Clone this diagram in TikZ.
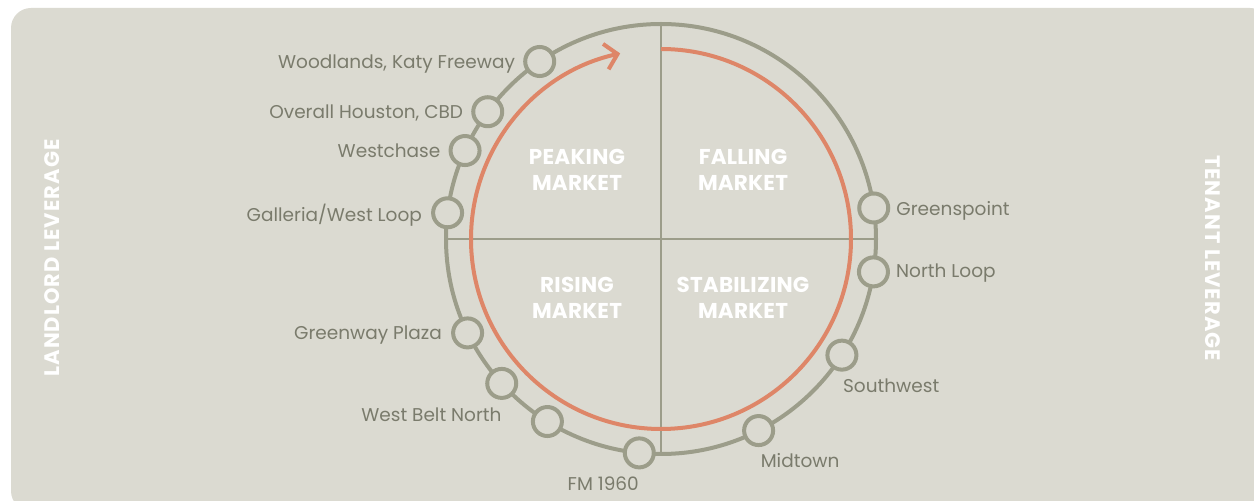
\documentclass[tikz,border=0pt]{standalone}
\usepackage{fontspec}
\setmainfont{Poppins}
\newfontfamily\capfont{Poppins}[LetterSpace=1]
\newfontfamily\sidefont{Poppins}[LetterSpace=5]
\usetikzlibrary{arrows.meta}
\definecolor{bgc}{RGB}{219,218,209}
\definecolor{ringc}{RGB}{156,157,138}
\definecolor{txtc}{RGB}{122,123,108}
\definecolor{orc}{RGB}{222,134,104}
\begin{document}
\begin{tikzpicture}[x=1pt,y=1pt,
  ring/.style={draw=ringc, line width=4pt},
  quad/.style={draw=ringc, line width=1.1pt},
  cyc/.style={draw=orc, line width=4pt, -{Straight Barb[length=12pt,width=26pt]}},
  station/.style={circle, draw=ringc, line width=4pt, fill=bgc, minimum size=29pt, inner sep=0pt},
  lab/.style={text=txtc, font=\fontsize{18.5}{22}\selectfont, inner sep=0pt},
  phase/.style={text=white, font=\capfont\bfseries\fontsize{21.5}{26}\selectfont, align=center, inner sep=0pt},
  side/.style={text=white, font=\sidefont\bfseries\fontsize{21}{24}\selectfont, inner sep=0pt}
]
\useasboundingbox (0,0) rectangle (1254,501);
\clip (0,0) rectangle (1254,501);
\fill[bgc, rounded corners=20pt] (11,-10) rectangle (1270,493);
\coordinate (C) at (661,262);
\coordinate (qW) at ([xshift=-215]C);
\coordinate (qE) at ([xshift=215]C);
\coordinate (qN) at ([yshift=215]C);
\coordinate (qS) at ([yshift=-215]C);
\draw[quad] (qW) -- (qE);
\draw[quad] (qN) -- (qS);
\draw[ring] (C) circle[radius=215];
\coordinate (oTop) at ([yshift=190]C);
\draw[cyc] (oTop) arc[start angle=90, end angle=-257.6, radius=190];
% stations
\node[station] (s1) at ([shift={(124.35:215)}]C) {};
\node[station] (s2) at ([shift={(143.7:215)}]C) {};
\node[station] (s3) at ([shift={(155.7:215)}]C) {};
\node[station] (s4) at ([shift={(173:215)}]C) {};
\node[station] (s5) at ([shift={(205.9:215)}]C) {};
\node[station] (s6) at ([shift={(222.2:215)}]C) {};
\node[station] (s7) at ([shift={(238.1:215)}]C) {};
\node[station] (s8) at ([shift={(264.2:215)}]C) {};
\node[station] (s9) at ([shift={(297:215)}]C) {};
\node[station] (s10) at ([shift={(327.3:215)}]C) {};
\node[station] (s11) at ([shift={(351.2:215)}]C) {};
\node[station] (s12) at ([shift={(8.3:215)}]C) {};
% labels
\node[lab, anchor=base east] (l1) at ([shift={(-8,-7)}]s1.west) {Woodlands, Katy Freeway};
\node[lab, anchor=base east] (l2) at ([shift={(-8,-7)}]s2.west) {Overall Houston, CBD};
\node[lab, anchor=base east] (l3) at ([shift={(-8,-7)}]s3.west) {Westchase};
\node[lab, anchor=base east] (l4) at ([shift={(-9,-9)}]s4.west) {Galleria/West Loop};
\node[lab, anchor=base east] (l5) at ([shift={(-9,-7)}]s5.west) {Greenway Plaza};
\node[lab, anchor=base east] (l6) at ([shift={(0,-38)}]s6.center) {West Belt North};
\node[lab, anchor=base] (l8) at ([shift={(-36,-38)}]s8.center) {FM 1960};
\node[lab, anchor=base west] (l9) at ([shift={(2,-37)}]s9.center) {Midtown};
\node[lab, anchor=base west] (l10) at ([shift={(1,-37)}]s10.center) {Southwest};
\node[lab, anchor=base west] (l11) at ([shift={(6,-6)}]s11.east) {North Loop};
\node[lab, anchor=base west] (l12) at ([shift={(6,-8)}]s12.east) {Greenspoint};
% phases
\node[phase] (p1) at (577,331) {PEAKING\\MARKET};
\node[phase] (p2) at (743,331) {FALLING\\MARKET};
\node[phase] (p3) at (577,203) {RISING\\MARKET};
\node[phase] (p4) at (743,203) {STABILIZING\\MARKET};
% sides
\node[side, rotate=90] (sl) at (52,243) {LANDLORD LEVERAGE};
\node[side, rotate=-90] (sr) at (1213,243) {TENANT LEVERAGE};
\end{tikzpicture}
\end{document}
